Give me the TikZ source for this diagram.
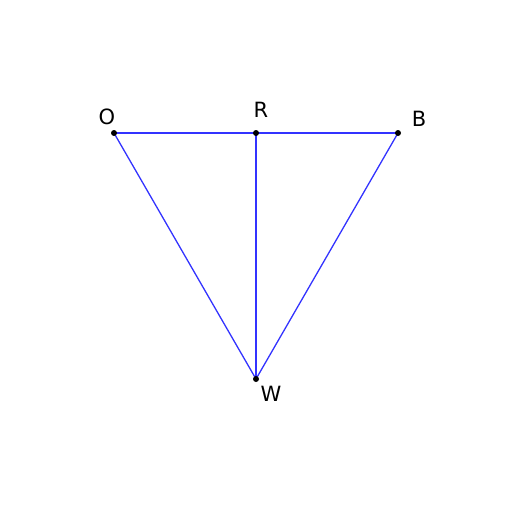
\documentclass[tikz,border=0pt]{standalone}
\usepackage{fontspec}
\setmainfont{DejaVu Sans}
\definecolor{segblue}{RGB}{51,51,255}
\begin{document}
\begin{tikzpicture}[x=1pt,y=-1pt,
  seg/.style={draw=segblue,line width=1.3pt},
  dot/.style={circle,fill=black,inner sep=0pt,minimum size=6pt},
  lbl/.style={font=\fontsize{21}{24}\selectfont,inner sep=0pt}]
\useasboundingbox (0,0) rectangle (512,512);
\coordinate (O) at (114,133);
\coordinate (R) at (256,133);
\coordinate (B) at (398,133);
\coordinate (W) at (256,379);
\draw[seg] (O) -- (R);
\draw[seg] (R) -- (B);
\draw[seg] (O) -- (W);
\draw[seg] (B) -- (W);
\draw[seg] (R) -- (W);
\node[dot] (dO) at (O) {};
\node[dot] (dR) at (R) {};
\node[dot] (dB) at (B) {};
\node[dot] (dW) at (W) {};
\node[lbl] (lO) at (107,117) {O};
\node[lbl] (lR) at (261,110) {R};
\node[lbl] (lB) at (419,119) {B};
\node[lbl] (lW) at (271,394) {W};
\end{tikzpicture}
\end{document}
